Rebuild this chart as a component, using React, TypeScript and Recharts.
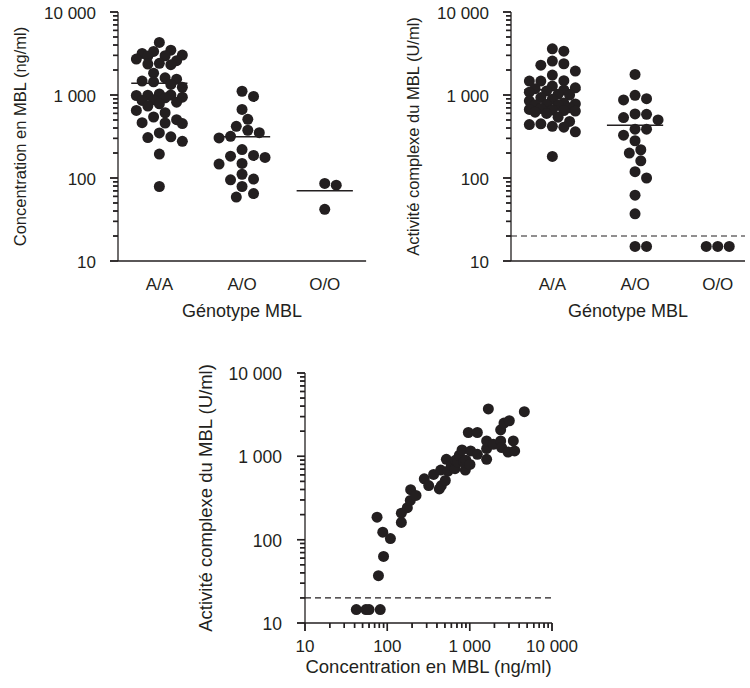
import React from 'react';
import { ScatterChart, Scatter, XAxis, YAxis, ReferenceLine, Label } from 'recharts';

const INK = '#231f20';
const FONT = '"Liberation Sans", Arial, Helvetica, sans-serif';

// génotypes
const genotypes = ['A/A', 'A/O', 'O/O'];

// concentration en MBL (ng/ml) par génotype
const concAA = [4300, 3470, 3350, 3170, 3030, 2970, 2950, 2710, 2590, 2410, 2360, 2320, 1830, 1610, 1550, 1470,
  1440, 1340, 1240, 1030, 1000, 995, 986, 942, 925, 875, 860, 820, 784, 735, 652, 611, 543, 505, 464, 460, 452,
  349, 313, 307, 277, 194, 79];
const concAO = [1110, 960, 670, 509, 420, 376, 352, 318, 304, 220, 187, 183, 177, 150, 147, 111, 97, 95, 79, 65, 59];
const concOO = [86, 82, 42];
const concMedians = [1390, 313, 70];

// activité complexe du MBL (U/ml) par génotype
const actAA = [3600, 3370, 2560, 2380, 2290, 1940, 1740, 1490, 1470, 1470, 1280, 1220, 1190, 1150, 1120, 1080,
  1020, 1000, 930, 890, 850, 800, 780, 770, 760, 750, 700, 690, 670, 660, 650, 640, 620, 600, 540, 480, 450, 440,
  420, 410, 360, 182];
const actAO = [1770, 990, 904, 871, 592, 586, 535, 501, 387, 387, 328, 281, 219, 200, 161, 119, 100, 62, 37, 15, 15];
const actOO = [15, 15, 15];
const actMedians = [1160, 433, 15];

// seuil de détection (U/ml)
const detectionLimit = 20;

// paires concentration / activité
const pairConc = [42, 55, 60, 82, 75, 78, 88, 90, 109, 148, 148, 175, 190, 192, 223, 281, 318, 365, 428, 453, 506,
  445, 546, 521, 600, 664, 670, 720, 749, 807, 885, 853, 900, 1009, 1028, 963, 1240, 1240, 1607, 1607, 1607, 1686,
  1937, 2380, 2380, 2447, 2612, 3032, 2924, 3388, 3520, 4613];
const pairAct = [14.5, 14.5, 14.5, 14.5, 186, 37, 123, 63, 103, 208, 161, 242, 296, 398, 340, 537, 446, 606, 406,
  446, 513, 684, 665, 921, 780, 710, 896, 850, 1030, 1194, 684, 854, 900, 800, 1161, 1932, 1932, 1057, 920, 1238,
  1532, 3707, 1396, 1532, 2080, 1274, 2506, 2673, 1127, 1532, 1161, 3436];

const logTicks = [10, 20, 30, 40, 50, 60, 70, 80, 90, 100, 200, 300, 400, 500, 600, 700, 800, 900,
  1000, 2000, 3000, 4000, 5000, 6000, 7000, 8000, 9000, 10000];

const MINOR = 5;
const MAJOR = 8;
const TICK_W = 1.4;
const PX_DECADE_X = 82.7;
const PX_DECADE_Y = 83.5;
const PX_UNIT = 82.7;

const isMajor = (v: number) => Math.abs(Math.log10(v) - Math.round(Math.log10(v))) < 1e-9;
const tickLen = (v: number) => (isMajor(v) ? MAJOR : MINOR);
const fmt = (v: number) => (v >= 1000 ? `${Math.floor(v / 1000)} ${String(v % 1000).padStart(3, '0')}` : String(v));

// beeswarm on at most 5 lanes; when nothing fits, take the least crowded spot
const swarm = (values: number[], pos: number) => {
  const lane = 11.5;
  const minDist = 10.6;
  const placed: { px: number; py: number }[] = [];
  const offsets = [0, 0.5, -0.5, 1, -1, 1.5, -1.5, 2, -2];
  return [...values].sort((a, b) => b - a).map((v) => {
    const py = -Math.log10(v) * PX_DECADE_Y;
    let best = 0;
    let bestDist = -1;
    for (const o of offsets) {
      const cand = o * lane;
      const d = placed.reduce((m, p) => Math.min(m, Math.hypot(p.px - cand, p.py - py)), Infinity);
      if (d >= minDist) {
        best = cand;
        bestDist = d;
        break;
      }
      if (d > bestDist) {
        bestDist = d;
        best = cand;
      }
    }
    placed.push({ px: best, py });
    return { x: pos + best / PX_UNIT, y: v };
  });
};

const Dot = (props: any) => <circle cx={props.cx} cy={props.cy} r={5.5} fill={INK} />;

const LogYTick = (props: any) => {
  const x = Number(props.x);
  const y = Number(props.y);
  const { payload, gap, fontSize } = props;
  const v = payload.value;
  const len = tickLen(v);
  return (
    <g>
      <rect x={x - len} y={y - TICK_W / 2} width={len} height={TICK_W} fill={INK} />
      {isMajor(v) && (
        <text x={x - gap} y={y} dy="0.4em" textAnchor="end" fontSize={fontSize} fill={INK} stroke="none" fontFamily={FONT}>
          {fmt(v)}
        </text>
      )}
    </g>
  );
};

const LogXTick = (props: any) => {
  const x = Number(props.x);
  const y = Number(props.y);
  const v = props.payload.value;
  const len = tickLen(v);
  return (
    <g>
      <rect x={x - TICK_W / 2} y={y} width={TICK_W} height={len} fill={INK} />
      {isMajor(v) && (
        <text x={x} y={y + 23} dy="0.36em" textAnchor="middle" fontSize={17} fill={INK} stroke="none" fontFamily={FONT}>
          {fmt(v)}
        </text>
      )}
    </g>
  );
};

const CatTick = (props: any) => {
  const { x, y, payload } = props;
  return (
    <text x={x} y={Number(y) + 17} dy="0.71em" textAnchor="middle" fontSize={17} fill={INK} stroke="none" fontFamily={FONT}>
      {genotypes[payload.value - 1]}
    </text>
  );
};

const titleStyle = (size: number) => ({ fontSize: size, fill: INK, fontFamily: FONT });
const axisLineStyle = { stroke: INK, strokeWidth: 1.3 };

// tick marks also laid down as reference segments just outside the plot
const yTickMarks = (xAt: (len: number) => [number, number]) =>
  logTicks.map((v) => {
    const [x0, x1] = xAt(tickLen(v));
    return (
      <ReferenceLine key={`yt${v}`} segment={[{ x: x0, y: v }, { x: x1, y: v }]} ifOverflow="visible" stroke={INK} strokeWidth={TICK_W} />
    );
  });

const GenotypeChart = ({ groups, medians, title, xMax, marginLeft, width, limit }: any) => {
  const height = 330;
  const plotW = (xMax - 0.5) * PX_UNIT;
  const data = groups.map((g: number[], i: number) => swarm(g, i + 1));
  return (
    <ScatterChart width={width} height={height} margin={{ top: 12, right: width - marginLeft - 108 - plotW, left: marginLeft, bottom: 13 }}>
      <XAxis
        type="number"
        dataKey="x"
        domain={[0.5, xMax]}
        ticks={[1, 2, 3]}
        interval={0}
        tick={<CatTick />}
        tickLine={false}
        tickSize={0}
        tickMargin={0}
        height={56}
        axisLine={axisLineStyle}
      >
        <Label value="Génotype MBL" position="insideBottom" offset={0} style={titleStyle(18)} />
      </XAxis>
      <YAxis
        type="number"
        dataKey="y"
        scale="log"
        domain={[10, 10000]}
        ticks={logTicks}
        interval={0}
        tick={<LogYTick gap={22} fontSize={17} />}
        tickLine={false}
        tickSize={0}
        tickMargin={0}
        width={108}
        axisLine={axisLineStyle}
      >
        <Label value={title} angle={-90} position="insideLeft" offset={10} textAnchor="middle" style={titleStyle(16.5)} />
      </YAxis>
      {yTickMarks((len) => [0.5 - len / PX_UNIT, 0.5])}
      {limit && <ReferenceLine y={limit} stroke={INK} strokeDasharray="6 4" strokeWidth={1.2} />}
      {medians.map((m: number, i: number) => (
        <ReferenceLine
          key={i}
          segment={[{ x: i + 0.66, y: m }, { x: i + 1.34, y: m }]}
          stroke={INK}
          strokeWidth={1.5}
        />
      ))}
      {data.map((d: any, i: number) => (
        <Scatter key={i} data={d} shape={<Dot />} isAnimationActive={false} />
      ))}
    </ScatterChart>
  );
};

const pairs = pairConc.map((c, i) => ({ x: c, y: pairAct[i] }));

export default function App() {
  return (
    <div style={{ position: 'absolute', left: 0, top: 0, width: 750, height: 688, background: '#fff', fontFamily: FONT }}>
      <div style={{ position: 'absolute', left: 0, top: 0 }}>
        <GenotypeChart
          groups={[concAA, concAO, concOO]}
          medians={concMedians}
          title="Concentration en MBL (ng/ml)"
          xMax={3.5}
          marginLeft={10}
          width={380}
        />
      </div>
      <div style={{ position: 'absolute', left: 380, top: 0 }}>
        <GenotypeChart
          groups={[actAA, actAO, actOO]}
          medians={actMedians}
          title="Activité complexe du MBL (U/ml)"
          xMax={3.33}
          marginLeft={23}
          width={370}
          limit={detectionLimit}
        />
      </div>
      <div style={{ position: 'absolute', left: 180, top: 360 }}>
        <ScatterChart width={410} height={328} margin={{ top: 13, right: 38, left: 15, bottom: 15 }}>
          <XAxis
            type="number"
            dataKey="x"
            scale="log"
            domain={[10, 10000]}
            ticks={logTicks}
            interval={0}
            tick={<LogXTick />}
            tickLine={false}
            tickSize={0}
            tickMargin={0}
            height={50}
            axisLine={axisLineStyle}
          >
            <Label value="Concentration en MBL (ng/ml)" position="insideBottom" offset={0} style={titleStyle(18.5)} />
          </XAxis>
          <YAxis
            type="number"
            dataKey="y"
            scale="log"
            domain={[10, 10000]}
            ticks={logTicks}
            interval={0}
            tick={<LogYTick gap={23} fontSize={17.5} />}
            tickLine={false}
            tickSize={0}
            tickMargin={0}
            width={110}
            axisLine={axisLineStyle}
          >
            <Label value="Activité complexe du MBL (U/ml)" angle={-90} position="insideLeft" offset={10} textAnchor="middle" style={titleStyle(18.5)} />
          </YAxis>
          {yTickMarks((len) => [10 * Math.pow(10, -len / PX_DECADE_X), 10])}
          {logTicks.map((v) => (
            <ReferenceLine
              key={`xt${v}`}
              segment={[{ x: v, y: 10 }, { x: v, y: 10 * Math.pow(10, -tickLen(v) / PX_DECADE_Y) }]}
              ifOverflow="visible"
              stroke={INK}
              strokeWidth={TICK_W}
            />
          ))}
          <ReferenceLine y={detectionLimit} stroke={INK} strokeDasharray="6 4" strokeWidth={1.2} />
          <Scatter data={pairs} shape={<Dot />} isAnimationActive={false} />
        </ScatterChart>
      </div>
    </div>
  );
}
